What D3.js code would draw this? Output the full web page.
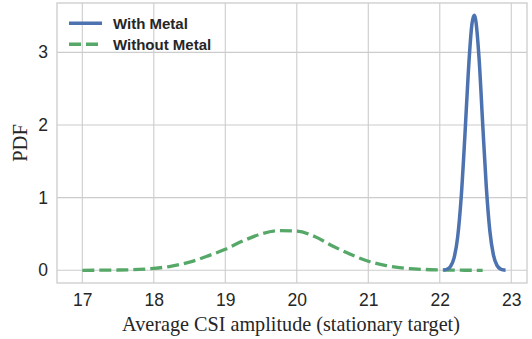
<!DOCTYPE html>
<html>
<head>
<meta charset="utf-8">
<script src="https://cdn.jsdelivr.net/npm/d3@7"></script>
<style>
  body { margin: 0; background: #fff; }
  svg { display: block; }
</style>
</head>
<body>
<svg id="chart" width="532" height="339"></svg>
<script>
// values
var withX = [22.05, 22.1, 22.15, 22.2, 22.25, 22.3, 22.35, 22.4, 22.45, 22.48, 22.5, 22.55, 22.6, 22.65, 22.7, 22.75, 22.8, 22.85, 22.9, 22.92];
var withY = [0.003, 0.014, 0.053, 0.171, 0.457, 1.01, 1.83, 2.74, 3.39, 3.51, 3.46, 2.91, 2.02, 1.16, 0.545, 0.213, 0.068, 0.018, 0.004, 0.002];

var withoutX = [17, 17.5, 18, 18.25, 18.5, 18.75, 19, 19.25, 19.5, 19.75, 20, 20.25, 20.5, 20.75, 21, 21.25, 21.5, 21.75, 22, 22.3, 22.6];
var withoutY = [0.000, 0.004, 0.026, 0.058, 0.113, 0.195, 0.29, 0.405, 0.500, 0.545, 0.540, 0.465, 0.335, 0.22, 0.125, 0.065, 0.030, 0.013, 0.005, 0.001, 0.000];

var xTicks = [17, 18, 19, 20, 21, 22, 23];
var yTicks = [0, 1, 2, 3];

var svg = d3.select("#chart");
var margin = { top: 3, right: 5, bottom: 56, left: 57 },
  width = 532 - margin.left - margin.right,
  height = 339 - margin.top - margin.bottom;

var x = d3.scaleLinear().domain([16.646, 23.22]).range([0, width]);
var y = d3.scaleLinear().domain([-0.175, 3.68]).range([height, 0]);

var g = svg.append("g")
  .attr("transform", "translate(" + margin.left + "," + margin.top + ")");

// grid
g.append("g")
  .selectAll("line")
  .data(xTicks)
  .enter().append("line")
  .attr("x1", function (d) { return x(d); })
  .attr("x2", function (d) { return x(d); })
  .attr("y1", 0).attr("y2", height)
  .attr("stroke", "#cccccc").attr("stroke-width", 1.1);

g.append("g")
  .selectAll("line")
  .data(yTicks)
  .enter().append("line")
  .attr("y1", function (d) { return y(d); })
  .attr("y2", function (d) { return y(d); })
  .attr("x1", 0).attr("x2", width)
  .attr("stroke", "#cccccc").attr("stroke-width", 1.1);

// frame
g.append("rect")
  .attr("width", width).attr("height", height)
  .attr("fill", "none").attr("stroke", "#cccccc").attr("stroke-width", 1.3);

// axes
var xAxis = g.append("g")
  .attr("transform", "translate(0," + height + ")")
  .call(d3.axisBottom(x).tickValues(xTicks).tickSize(0).tickPadding(11).tickFormat(d3.format("d")));
var yAxis = g.append("g")
  .call(d3.axisLeft(y).tickValues(yTicks).tickSize(0).tickPadding(9).tickFormat(d3.format("d")));

[xAxis, yAxis].forEach(function (a) {
  a.select(".domain").remove();
  a.selectAll("text")
    .attr("fill", "#262626")
    .style("font-family", "'Liberation Sans', Arial, sans-serif")
    .style("font-size", "17.5px");
});

// axis titles
svg.append("text")
  .attr("x", margin.left + width / 2 - 1)
  .attr("y", 331)
  .attr("text-anchor", "middle")
  .attr("fill", "#262626")
  .style("font-family", "'Liberation Serif', 'Times New Roman', serif")
  .style("font-size", "20.2px")
  .text("Average CSI amplitude (stationary target)");

svg.append("text")
  .attr("transform", "translate(26.5," + (margin.top + height / 2) + ") rotate(-90)")
  .attr("text-anchor", "middle")
  .attr("fill", "#262626")
  .style("font-family", "'Liberation Serif', 'Times New Roman', serif")
  .style("font-size", "20.5px")
  .text("PDF");

// curves
var line = d3.line()
  .x(function (d) { return x(d[0]); })
  .y(function (d) { return y(d[1]); })
  .curve(d3.curveMonotoneX);

g.append("path")
  .datum(withoutX.map(function (v, i) { return [v, withoutY[i]]; }))
  .attr("d", line)
  .attr("fill", "none")
  .attr("stroke", "#55a868")
  .attr("stroke-width", 3.3)
  .attr("stroke-dasharray", "12,5");

g.append("path")
  .datum(withX.map(function (v, i) { return [v, withY[i]]; }))
  .attr("d", line)
  .attr("fill", "none")
  .attr("stroke", "#4c72b0")
  .attr("stroke-width", 3.5)
  .attr("stroke-linejoin", "round");

// legend
var legend = [
  { name: "With Metal", color: "#4c72b0", dash: null },
  { name: "Without Metal", color: "#55a868", dash: "12,5" }
];
var lg = svg.append("g").selectAll("g")
  .data(legend)
  .enter().append("g")
  .attr("transform", function (d, i) { return "translate(69," + (23.3 + i * 21) + ")"; });

lg.append("line")
  .attr("x1", 0).attr("x2", 33)
  .attr("stroke", function (d) { return d.color; })
  .attr("stroke-width", 3.5)
  .attr("stroke-dasharray", function (d) { return d.dash; });

lg.append("text")
  .attr("x", 44).attr("dy", "0.35em")
  .attr("fill", "#262626")
  .style("font-family", "'Liberation Sans', Arial, sans-serif")
  .style("font-weight", "bold")
  .style("font-size", "15px")
  .text(function (d) { return d.name; });
</script>
</body>
</html>
